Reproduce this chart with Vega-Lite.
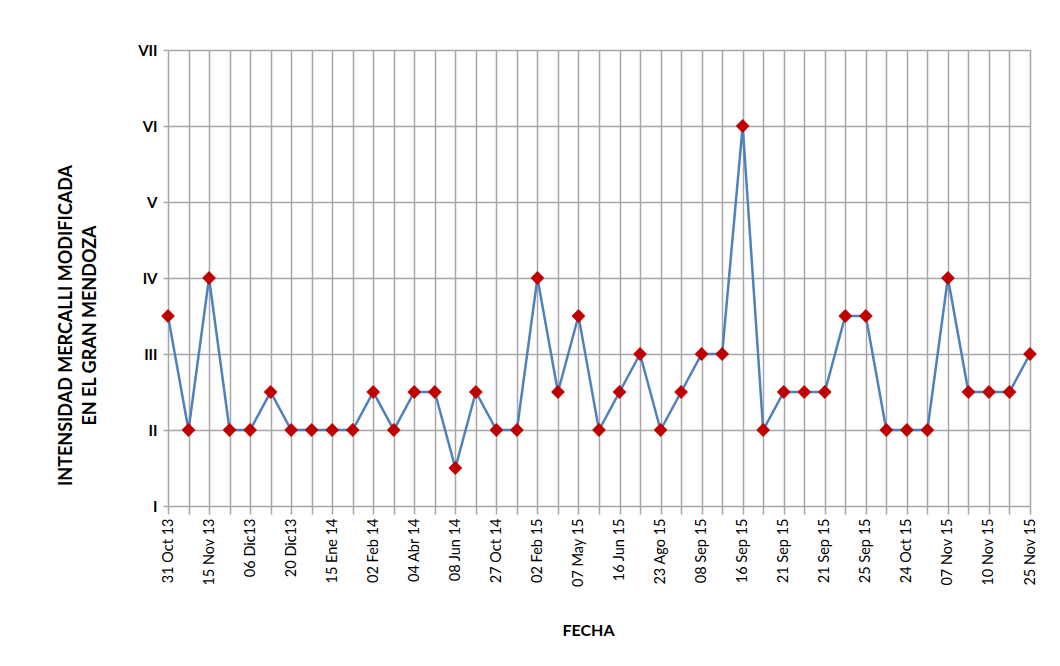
{
  "$schema": "https://vega.github.io/schema/vega-lite/v6.json",
  "width": 862,
  "height": 456,
  "autosize": {"type": "none"},
  "padding": {"left": 168, "top": 50, "right": 30, "bottom": 160},
  "background": "white",
  "config": {
    "view": {"stroke": null},
    "font": "Lato"
  },
  "data": {
    "values": [
      {"fecha": "31 Oct 13", "intensidad": 3.5},
      {"fecha": "#1", "intensidad": 2},
      {"fecha": "15 Nov 13", "intensidad": 4},
      {"fecha": "#3", "intensidad": 2},
      {"fecha": "06 Dic13", "intensidad": 2},
      {"fecha": "#5", "intensidad": 2.5},
      {"fecha": "20 Dic13", "intensidad": 2},
      {"fecha": "#7", "intensidad": 2},
      {"fecha": "15 Ene 14", "intensidad": 2},
      {"fecha": "#9", "intensidad": 2},
      {"fecha": "02 Feb 14", "intensidad": 2.5},
      {"fecha": "#11", "intensidad": 2},
      {"fecha": "04 Abr 14", "intensidad": 2.5},
      {"fecha": "#13", "intensidad": 2.5},
      {"fecha": "08 Jun 14", "intensidad": 1.5},
      {"fecha": "#15", "intensidad": 2.5},
      {"fecha": "27 Oct 14", "intensidad": 2},
      {"fecha": "#17", "intensidad": 2},
      {"fecha": "02 Feb 15", "intensidad": 4},
      {"fecha": "#19", "intensidad": 2.5},
      {"fecha": "07 May 15", "intensidad": 3.5},
      {"fecha": "#21", "intensidad": 2},
      {"fecha": "16 Jun 15", "intensidad": 2.5},
      {"fecha": "#23", "intensidad": 3},
      {"fecha": "23 Ago 15", "intensidad": 2},
      {"fecha": "#25", "intensidad": 2.5},
      {"fecha": "08 Sep 15", "intensidad": 3},
      {"fecha": "#27", "intensidad": 3},
      {"fecha": "16 Sep 15", "intensidad": 6},
      {"fecha": "#29", "intensidad": 2},
      {"fecha": "21 Sep 15", "intensidad": 2.5},
      {"fecha": "#31", "intensidad": 2.5},
      {"fecha": "21 Sep 15 ", "intensidad": 2.5},
      {"fecha": "#33", "intensidad": 3.5},
      {"fecha": "25 Sep 15", "intensidad": 3.5},
      {"fecha": "#35", "intensidad": 2},
      {"fecha": "24 Oct 15", "intensidad": 2},
      {"fecha": "#37", "intensidad": 2},
      {"fecha": "07 Nov 15", "intensidad": 4},
      {"fecha": "#39", "intensidad": 2.5},
      {"fecha": "10 Nov 15", "intensidad": 2.5},
      {"fecha": "#41", "intensidad": 2.5},
      {"fecha": "25 Nov 15", "intensidad": 3}
    ]
  },
  "encoding": {
    "x": {
      "field": "fecha",
      "type": "ordinal",
      "sort": null,
      "scale": {"type": "point", "padding": 0},
      "axis": {
        "title": "FECHA",
        "titleFont": "Lato",
        "titleFontSize": 16,
        "titleFontWeight": "bold",
        "titleColor": "#000000",
        "titlePadding": 36,
        "titleX": 420,
        "labelExpr": "indexof(datum.label, '#') == 0 ? '' : datum.label",
        "labelAngle": -90,
        "labelFont": "Lato",
        "labelFontSize": 14.5,
        "labelColor": "#000000",
        "labelPadding": 4,
        "labelOverlap": false,
        "domain": false,
        "grid": true,
        "gridColor": "#a6a6a6",
        "gridWidth": 1.5,
        "ticks": true,
        "tickSize": 8,
        "tickColor": "#a6a6a6",
        "tickWidth": 1.5
      }
    },
    "y": {
      "field": "intensidad",
      "type": "quantitative",
      "scale": {"domain": [1, 7], "nice": false, "zero": false},
      "axis": {
        "title": ["INTENSIDAD MERCALLI MODIFICADA", "EN EL  GRAN MENDOZA"],
        "titleFont": "Lato",
        "titleFontSize": 18,
        "titleFontWeight": "bold",
        "titleColor": "#000000",
        "titlePadding": 38,
        "titleLineHeight": 24,
        "titleY": 275,
        "values": [1, 2, 3, 4, 5, 6, 7],
        "labelExpr": "['', 'I', 'II', 'III', 'IV', 'V', 'VI', 'VII'][datum.value]",
        "labelFont": "Lato",
        "labelFontSize": 15,
        "labelFontWeight": "bold",
        "labelColor": "#000000",
        "labelPadding": 6,
        "domain": false,
        "grid": true,
        "gridColor": "#a6a6a6",
        "gridWidth": 1.5,
        "ticks": true,
        "tickSize": 5,
        "tickColor": "#a6a6a6",
        "tickWidth": 1.5
      }
    }
  },
  "layer": [
    {
      "mark": {"type": "line", "color": "#4f81bd", "strokeWidth": 2.5}
    },
    {
      "mark": {"type": "point", "shape": "diamond", "filled": true, "size": 190, "color": "#c00000", "opacity": 1}
    }
  ]
}
